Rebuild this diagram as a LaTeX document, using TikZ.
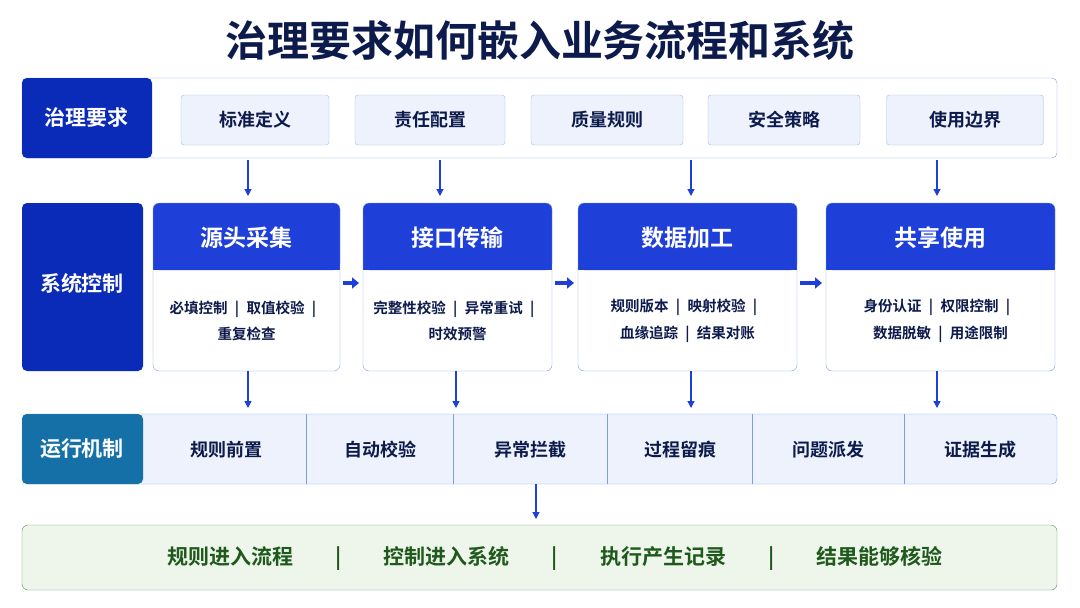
\documentclass[tikz,border=0pt]{standalone}
\usepackage{fontspec}
\setmainfont{Noto Sans CJK SC}[BoldFont={Noto Sans CJK SC Bold}]
\usetikzlibrary{arrows.meta,positioning}
\definecolor{navy}{HTML}{0D1B4C}
\definecolor{mblue}{HTML}{1E3FD8}
\definecolor{dblue}{HTML}{0A2AB8}
\definecolor{lblue}{HTML}{EDF2FD}
\definecolor{fblue}{HTML}{7F9CEB}
\definecolor{teal}{HTML}{1670A8}
\definecolor{dgreen}{HTML}{1F5A1C}
\definecolor{lgreen}{HTML}{EEF6EC}
\newcommand{\sepbar}{\enspace\textbar\enspace}
\tikzset{
  lab/.style={rounded corners=5pt, text=white, font=\bfseries\fontsize{21}{21}\selectfont},
  item/.style={draw=fblue!70, fill=lblue, rounded corners=3pt, minimum height=50pt, font=\bfseries\fontsize{18}{18}\selectfont, text=navy},
  cell/.style={font=\bfseries\fontsize{18}{18}\selectfont, text=navy},
  body/.style={font=\bfseries\fontsize{14.5}{14.5}\selectfont, text=navy, align=center},
  down/.style={-{Triangle[length=7pt,width=7pt]}, mblue, line width=1.3pt},
  side/.style={-{Triangle[length=7pt,width=11pt]}, mblue, line width=4pt},
}
\begin{document}
\begin{tikzpicture}[x=1pt,y=-1pt]
      \useasboundingbox (0,0) rectangle (1080,608);
      \node[font=\bfseries\fontsize{42}{42}\selectfont, text=navy] (title) at (540,40) {治理要求如何嵌入业务流程和系统};

      % governance row
      \draw[fblue, rounded corners=5pt, fill=white] (22,78) rectangle (1057,158);
      \fill[dblue, rounded corners=5pt] (22,78) rectangle (152,158);
      \node[lab] (gov) at (87,118) {治理要求};
      \node[item, minimum width=148pt] (g1) at (255,120) {标准定义};
      \node[item, minimum width=150pt] (g2) at (430,120) {责任配置};
      \node[item, minimum width=152pt] (g3) at (607,120) {质量规则};
      \node[item, minimum width=152pt] (g4) at (784,120) {安全策略};
      \node[item, minimum width=157pt] (g5) at (965,120) {使用边界};

      % system control row
      \fill[dblue, rounded corners=5pt] (22,203) rectangle (143,371);
      \node[lab] (sys) at (82,283) {系统控制};
      \foreach \n/\l/\r/\t/\a/\b in {
          c1/153/340/源头采集/必填控制\sepbar 取值校验\sepbar/重复检查,
          c2/363/552/接口传输/完整性校验\sepbar 异常重试\sepbar/时效预警,
          c3/578/797/数据加工/规则版本\sepbar 映射校验\sepbar/血缘追踪\sepbar 结果对账,
          c4/826/1055/共享使用/身份认证\sepbar 权限控制\sepbar/数据脱敏\sepbar 用途限制} {
        \fill[white, rounded corners=6pt] (\l,203) rectangle (\r,371);
        \fill[mblue, rounded corners=6pt] (\l,203) rectangle (\r,270);
        \fill[mblue] (\l,250) rectangle (\r,270);
        \draw[fblue, rounded corners=6pt] (\l,203) rectangle (\r,371);
        \node[font=\bfseries\fontsize{23}{23}\selectfont, text=white] (\n) at ({(\l+\r)/2},238) {\t};
        \node[body] (\n b) at ({(\l+\r)/2},321) {\a\\[9pt]\b};
        \coordinate (\n l) at (\l,283);
        \coordinate (\n r) at (\r,283);
      }
      \draw[side] ([xshift=3pt]c1r) -- ([xshift=-4pt]c2l);
      \draw[side] ([xshift=3pt]c2r) -- ([xshift=-4pt]c3l);
      \draw[side] ([xshift=3pt]c3r) -- ([xshift=-4pt]c4l);
      \coordinate (p1) at (248,371);
      \coordinate (p2) at (456,371);
      \coordinate (p3) at (691,371);
      \coordinate (p4) at (937,371);

      \draw[down] (248,160) -- (248,196);
      \draw[down] (440,160) -- (440,196);
      \draw[down] (691,160) -- (691,196);
      \draw[down] (937,160) -- (937,196);

      % runtime row
      \draw[fblue, fill=lblue, rounded corners=5pt] (22,414) rectangle (1057,484);
      \fill[teal, rounded corners=5pt] (22,414) rectangle (143,484);
      \node[lab] (run) at (82,449) {运行机制};
      \foreach \x in {306,453,607,752,904}
        \draw[fblue] (\x,414) -- (\x,484);
      \node[cell] (r1) at (226,450) {规则前置};
      \node[cell] (r2) at (380,450) {自动校验};
      \node[cell] (r3) at (530,450) {异常拦截};
      \node[cell] (r4) at (680,450) {过程留痕};
      \node[cell] (r5) at (828,450) {问题派发};
      \node[cell] (r6) at (980,450) {证据生成};
      \foreach \i in {1,2,3,4}
        \draw[down] (p\i) -- ++(0,37);

      % outcome
      \draw[dgreen!70, fill=lgreen, rounded corners=6pt] (22,525) rectangle (1057,590);
      \node[font=\bfseries\fontsize{21}{21}\selectfont, text=dgreen] (out) at (555,558)
        {规则进入流程\qquad\textbar\qquad 控制进入系统\qquad\textbar\qquad 执行产生记录\qquad\textbar\qquad 结果能够核验};
      \draw[down] (536,484) -- (536,519);
\end{tikzpicture}
\end{document}
